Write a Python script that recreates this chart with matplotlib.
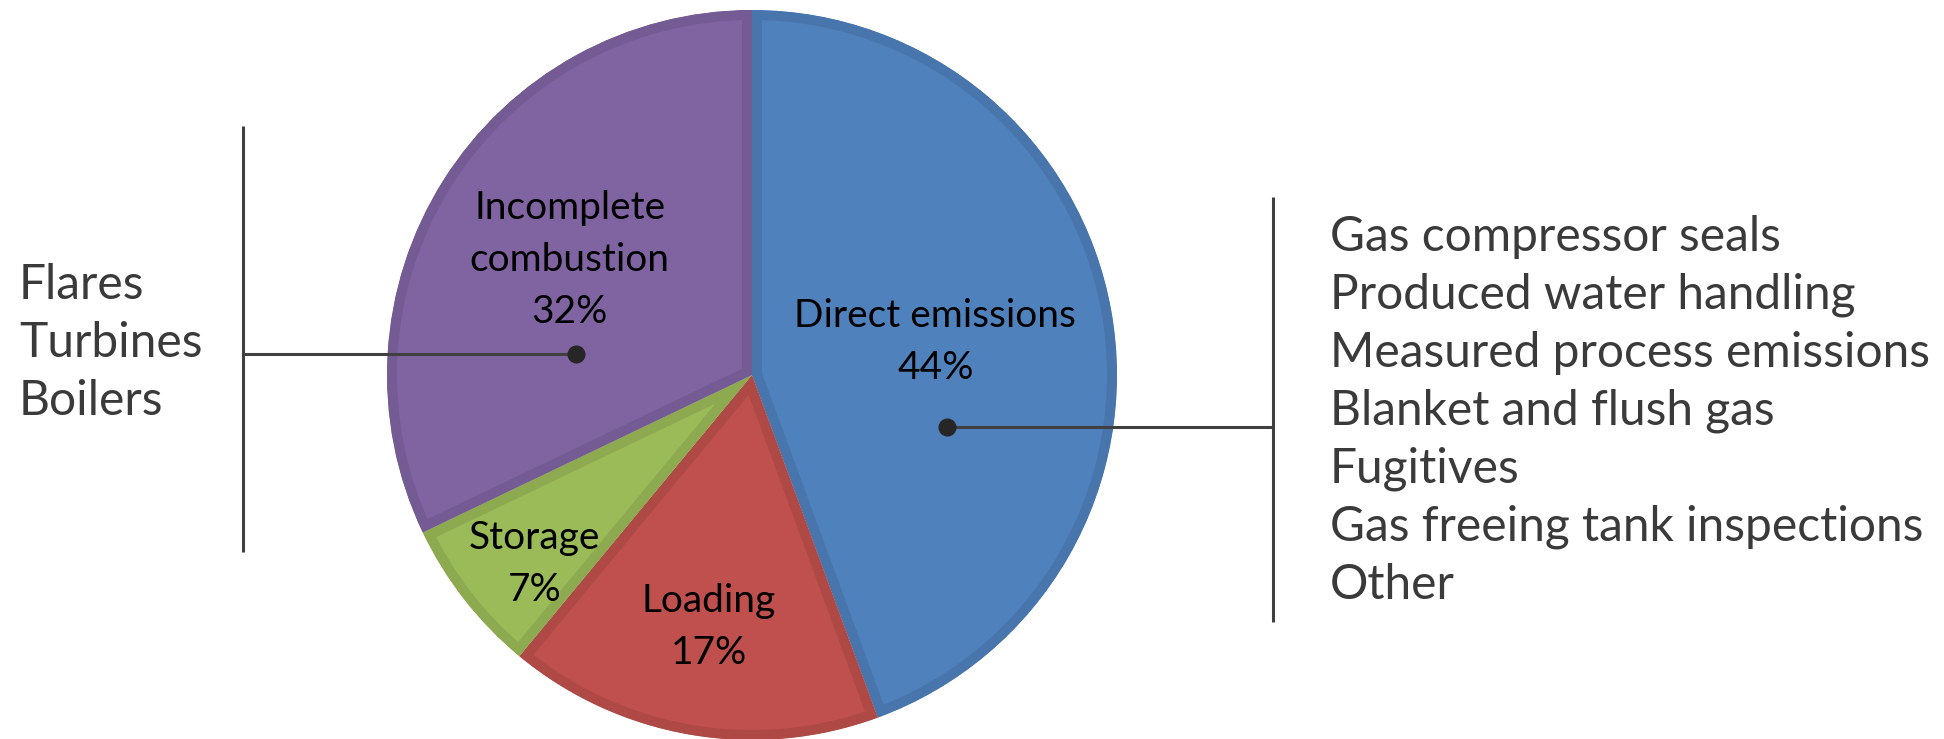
import numpy as np
import matplotlib.pyplot as plt
import matplotlib.colors as mcolors

# Emission source shares (%), clockwise from 12 o'clock
sources = ['Direct emissions', 'Loading', 'Storage', 'Incomplete\ncombustion']
shares = [44.4, 16.6, 6.9, 32.1]
fills = ['#4F81BD', '#C0504D', '#9BBB59', '#8064A2']
label_dist = [0.51, 0.70, 0.79, 0.59]
label_turn = [0, 0, 3, 0]  # degrees, nudges label off the mid angle

direct_items = ['Gas compressor seals', 'Produced water handling',
                'Measured process emissions', 'Blanket and flush gas',
                'Fugitives', 'Gas freeing tank inspections', 'Other']
combustion_items = ['Flares', 'Turbines', 'Boilers']

W, H = 1944, 739
fig = plt.figure(figsize=(W / 100, H / 100), dpi=100)
ax = fig.add_axes([0, 0, 1, 1])

cx, cy, R = 752, 364, 365

wedges, _ = ax.pie(shares, colors=fills, startangle=90, counterclock=False,
                   center=(cx, cy), radius=R, frame=True)
ax.set_xlim(0, W)
ax.set_ylim(0, H)
ax.set_aspect('equal')
ax.axis('off')

# darker inner border on each slice (clip the stroke to the slice itself)
for w, c in zip(wedges, fills):
    dark = tuple(v * 0.91 for v in mcolors.to_rgb(c))
    w.set_edgecolor(dark)
    w.set_linewidth(14.4)
    w.set_clip_on(True)
    w.set_clip_path(w)

# slice labels
for w, name, pct, d, turn in zip(wedges, sources, shares, label_dist, label_turn):
    ang = np.deg2rad((w.theta1 + w.theta2) / 2 + turn)
    x = cx + d * R * np.cos(ang)
    y = cy + d * R * np.sin(ang)
    ax.text(x, y, f'{name}\n{round(pct)}%', ha='center', va='center', fontsize=28,
            family='Lato', color='black', linespacing=1.55)

line_col = '#404040'
text_col = '#3a3a3a'

# right callout (direct emissions)
dot_r = (947, H - 427)
x_r = 1273
ax.plot([dot_r[0], x_r], [dot_r[1], dot_r[1]], color=line_col, lw=2.2, solid_capstyle='butt')
ax.plot([x_r, x_r], [H - 197, H - 622], color=line_col, lw=2.2, solid_capstyle='butt')
ax.plot(*dot_r, marker='o', ms=12, color='#262626')
for i, t in enumerate(direct_items):
    ax.text(1330, H - 237 - 58 * i, t, ha='left', va='center', fontsize=34.5,
            family='Lato', color=text_col)

# left callout (incomplete combustion)
dot_l = (576, H - 354)
x_l = 243
ax.plot([x_l, dot_l[0]], [dot_l[1], dot_l[1]], color=line_col, lw=2.2, solid_capstyle='butt')
ax.plot([x_l, x_l], [H - 126, H - 552], color=line_col, lw=2.2, solid_capstyle='butt')
ax.plot(*dot_l, marker='o', ms=12, color='#262626')
for i, t in enumerate(combustion_items):
    ax.text(19, H - 285 - 58 * i, t, ha='left', va='center', fontsize=34.5,
            family='Lato', color=text_col)

fig.savefig('out.png', dpi=100)
